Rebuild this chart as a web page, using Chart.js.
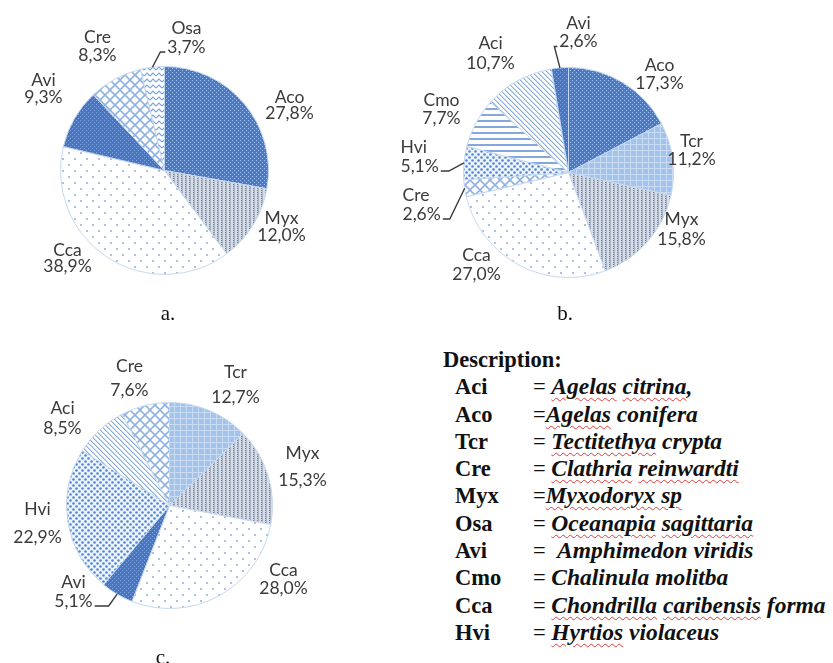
<!DOCTYPE html>
<html>
<head>
<meta charset="utf-8">
<script src="https://cdn.jsdelivr.net/npm/chart.js@4.4.1/dist/chart.umd.min.js"></script>
<style>
  html, body { margin: 0; padding: 0; background: #fff; }
  .wrap { position: relative; width: 833px; height: 663px; overflow: hidden; }
  canvas { position: absolute; }
  .cap { position: absolute; font-family: "Liberation Serif", "Times New Roman", serif; font-size: 21px; color: #111; transform: translate(-50%, -50%); }
  .desc { position: absolute; left: 443px; top: 346px; font-family: "Liberation Serif", "Times New Roman", serif; font-size: 22.5px; line-height: 27.3px; color: #111; white-space: nowrap; }
  .desc .head { font-weight: bold; }
  .desc .ab { display: inline-block; width: 78px; padding-left: 12px; font-weight: bold; }
  .desc .nm { font-style: italic; font-weight: bold; font-size: 23.5px; }
  .sp { text-decoration: underline wavy #e23b3b; text-decoration-thickness: 1px; text-underline-offset: 3px; }
</style>
</head>
<body>
<div class="wrap">
  <canvas id="pieA" width="330" height="330" style="left:0;top:0"></canvas>
  <canvas id="pieB" width="400" height="330" style="left:360px;top:0"></canvas>
  <canvas id="pieC" width="340" height="323" style="left:0;top:340px"></canvas>
  <div class="cap" style="left:168px;top:313px">a.</div>
  <div class="cap" style="left:565px;top:313px">b.</div>
  <div class="cap" style="left:163px;top:657px">c.</div>
  <div class="desc" id="desc"></div>
</div>
<script>
// Species composition (%) per site, listed clockwise from 12 o'clock
const catsA = ['Aco', 'Myx', 'Cca', 'Avi', 'Cre', 'Osa'];
const valsA = [27.8, 12.0, 38.9, 9.3, 8.3, 3.7];

const catsB = ['Aco', 'Tcr', 'Myx', 'Cca', 'Cre', 'Hvi', 'Cmo', 'Aci', 'Avi'];
const valsB = [17.3, 11.2, 15.8, 27.0, 2.6, 5.1, 7.7, 10.7, 2.6];

const catsC = ['Tcr', 'Myx', 'Cca', 'Avi', 'Hvi', 'Aci', 'Cre'];
const valsC = [12.7, 15.3, 28.0, 5.1, 22.9, 8.5, 7.6];

// Legend of abbreviations
const abbrevs = ['Aci', 'Aco', 'Tcr', 'Cre', 'Myx', 'Osa', 'Avi', 'Cmo', 'Cca', 'Hvi'];
const speciesNames = [
  '= <span class="nm"><span class="sp">Agelas</span> <span class="sp">citrina</span>,</span>',
  '=<span class="nm"><span class="sp">Agelas</span> conifera</span>',
  '= <span class="nm"><span class="sp">Tectitethya</span> crypta</span>',
  '= <span class="nm"><span class="sp">Clathria</span> <span class="sp">reinwardti</span></span>',
  '=<span class="nm"><span class="sp">Myxodoryx sp</span></span>',
  '= <span class="nm"><span class="sp">Oceanapia</span> <span class="sp">sagittaria</span></span>',
  '=&nbsp; <span class="nm">Amphimedon viridis</span>',
  '= <span class="nm">Chalinula molitba</span>',
  '= <span class="nm"><span class="sp">Chondrilla</span> <span class="sp">caribensis</span> forma</span>',
  '= <span class="nm"><span class="sp">Hyrtios</span> violaceus</span>'
];

// ---- pattern fills -------------------------------------------------------
function tile(w, h, bg, paint) {
  const c = document.createElement('canvas');
  c.width = w; c.height = h;
  const g = c.getContext('2d');
  g.fillStyle = bg; g.fillRect(0, 0, w, h);
  paint(g, w, h);
  return g.createPattern(c, 'repeat');
}
function dot(g, x, y, r) { g.beginPath(); g.arc(x, y, r, 0, Math.PI * 2); g.fill(); }

const FILLS = {
  Aco: tile(4, 4, '#4a7bc8', g => { g.fillStyle = '#a3c0ea'; g.fillRect(0, 0, 1, 1); g.fillRect(2, 2, 1, 1); }),
  Myx: tile(4, 4, '#d6dde7', g => {
    g.fillStyle = '#75849c'; g.fillRect(1, 0, 1, 4);
    g.fillStyle = '#a6b2c3'; g.fillRect(2, 0, 1, 4);
    g.fillStyle = '#c9d1dd'; g.fillRect(1, 1, 1, 1); g.fillRect(1, 3, 1, 1);
  }),
  Cca: tile(12, 12, '#ffffff', g => { g.fillStyle = '#93acd9'; dot(g, 3, 3, 1); dot(g, 9, 9, 1); }),
  Avi: tile(4, 4, '#4676c6', g => { g.fillStyle = '#86a7de'; g.fillRect(0, 0, 1, 1); g.fillRect(2, 2, 1, 1); }),
  Cre: tile(10, 10, '#ffffff', g => {
    g.strokeStyle = '#90b2e3'; g.lineWidth = 1.6;
    g.beginPath(); g.moveTo(-1, -1); g.lineTo(11, 11); g.moveTo(11, -1); g.lineTo(-1, 11); g.stroke();
  }),
  Osa: tile(6, 6, '#ffffff', g => {
    g.strokeStyle = '#7aa2dc'; g.lineWidth = 1.2;
    g.beginPath(); g.moveTo(0, 4); g.lineTo(3, 1); g.lineTo(6, 4); g.stroke();
  }),
  Tcr: tile(6, 6, '#a2c3ea', g => { g.fillStyle = '#cadcf4'; g.fillRect(0, 0, 6, 1); g.fillRect(0, 0, 1, 6); }),
  Aci: tile(5, 5, '#ffffff', g => {
    for (let i = 0; i < 5; i++) {
      g.fillStyle = '#86ace0'; g.fillRect(i, i, 1, 1);
      g.fillStyle = '#c8daf2'; g.fillRect((i + 1) % 5, i, 1, 1);
    }
  }),
  Cmo: tile(1, 6, '#ffffff', g => { g.fillStyle = '#84a8de'; g.fillRect(0, 0, 1, 2); }),
  Hvi: tile(6, 6, '#eef4fc', g => { g.fillStyle = '#4f86d4'; dot(g, 1.5, 1.5, 1.3); dot(g, 4.5, 4.5, 1.3); })
};

// ---- label layout: block offset from the pie centre, line gap, alignment, leader
const layoutA = [
  { dx: 125, dy: -65, gap: 16 },
  { dx: 117, dy: 56, gap: 17 },
  { dx: -97, dy: 88, gap: 16 },
  { dx: -121, dy: -82, gap: 17 },
  { dx: -67, dy: -124, gap: 18 },
  { dx: 22, dy: -133, gap: 19, leader: { side: 'left', len: 5 } }
];
const layoutB = [
  { dx: 91, dy: -98, gap: 18 },
  { dx: 123, dy: -22, gap: 18 },
  { dx: 113, dy: 57, gap: 20 },
  { dx: -92, dy: 92, gap: 19 },
  { dx: -166, dy: 32, gap: 19, align: 'left', leader: { side: 'right', len: 7 } },
  { dx: -168, dy: -16, gap: 19, align: 'left', leader: { side: 'right', len: 8 } },
  { dx: -127, dy: -63, gap: 18 },
  { dx: -78, dy: -119, gap: 20 },
  { dx: 10, dy: -140, gap: 18, leader: { side: 'left', len: 3 } }
];
const layoutC = [
  { dx: 66, dy: -121, gap: 25 },
  { dx: 133, dy: -39, gap: 27 },
  { dx: 114, dy: 74, gap: 18 },
  { dx: -96, dy: 86, gap: 19, leader: { side: 'right', len: 14 } },
  { dx: -132, dy: 18, gap: 28 },
  { dx: -107, dy: -87, gap: 20 },
  { dx: -40, dy: -127, gap: 24 }
];

const LABEL_FONT = '17.5px Lato, "Open Sans", sans-serif';
const LABEL_COLOR = '#3a3a3a';

function fmtPct(v) { return v.toFixed(1).replace('.', ',') + '%'; }

function sliceLabels(layout) {
  return {
    id: 'sliceLabels',
    afterDatasetsDraw(chart) {
      const ctx = chart.ctx;
      const meta = chart.getDatasetMeta(0);
      const values = chart.data.datasets[0].data;
      ctx.save();
      ctx.font = LABEL_FONT;
      ctx.fillStyle = LABEL_COLOR;
      ctx.textBaseline = 'middle';
      meta.data.forEach((arc, i) => {
        const L = layout[i];
        const cx = arc.x + L.dx, cy = arc.y + L.dy;
        const name = chart.data.labels[i];
        const pct = fmtPct(values[i]);
        const y1 = cy - L.gap / 2, y2 = cy + L.gap / 2;
        ctx.textAlign = L.align || 'center';
        ctx.fillText(name, cx, y1);
        ctx.fillText(pct, cx, y2);
        if (L.leader) {
          const w = ctx.measureText(pct).width;
          const left = L.align === 'left' ? cx : cx - w / 2;
          const right = left + w;
          const mid = (arc.startAngle + arc.endAngle) / 2;
          const ax = arc.x + Math.cos(mid) * arc.outerRadius;
          const ay = arc.y + Math.sin(mid) * arc.outerRadius;
          const ly = y2 + 5;
          const sx = L.leader.side === 'left' ? left - 2 : right + 2;
          const ex = L.leader.side === 'left' ? sx - L.leader.len : sx + L.leader.len;
          ctx.strokeStyle = LABEL_COLOR;
          ctx.lineWidth = 1.4;
          ctx.beginPath();
          ctx.moveTo(sx, ly); ctx.lineTo(ex, ly); ctx.lineTo(ax, ay);
          ctx.stroke();
        }
      });
      ctx.restore();
    }
  };
}

function pieChart(id, cats, vals, layout, pad) {
  return new Chart(document.getElementById(id), {
    type: 'pie',
    data: {
      labels: cats,
      datasets: [{
        data: vals,
        backgroundColor: cats.map(c => FILLS[c]),
        borderColor: '#c6d8f0',
        borderWidth: 1
      }]
    },
    options: {
      responsive: false,
      animation: false,
      events: [],
      layout: { padding: pad },
      plugins: { legend: { display: false }, tooltip: { enabled: false } }
    },
    plugins: [sliceLabels(layout)]
  });
}

pieChart('pieA', catsA, valsA, layoutA, { left: 60, right: 61, top: 66, bottom: 55 });
pieChart('pieB', catsB, valsB, layoutB, { left: 103, right: 86, top: 67, bottom: 52 });
pieChart('pieC', catsC, valsC, layoutC, { left: 66, right: 67, top: 62, bottom: 54 });

// description block
const desc = document.getElementById('desc');
let html = '<div class="head">Description:</div>';
abbrevs.forEach((a, i) => { html += '<div><span class="ab">' + a + '</span>' + speciesNames[i] + '</div>'; });
desc.innerHTML = html;
</script>
</body>
</html>
